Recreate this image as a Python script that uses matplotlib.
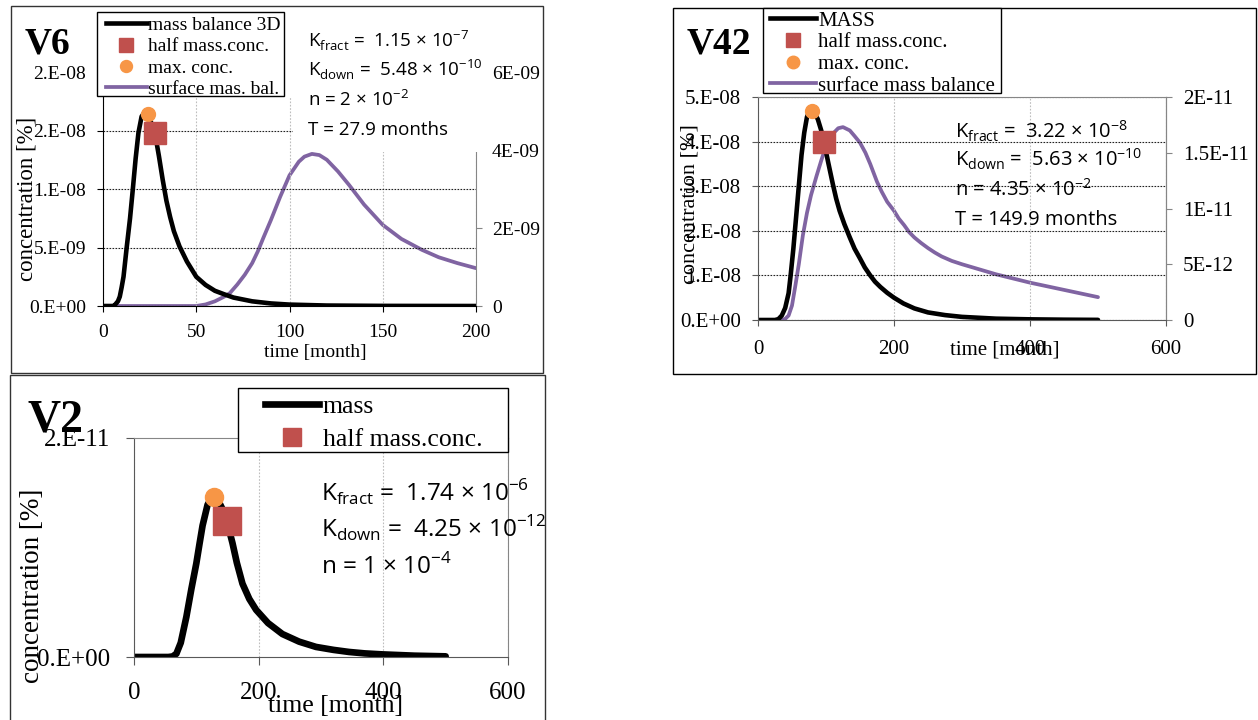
import matplotlib.pyplot as plt
from matplotlib.lines import Line2D
from matplotlib.patches import Rectangle
from matplotlib.transforms import Bbox, TransformedBbox

# Datos (tiempo en meses, concentración en %)

# Panel V6
v6_t_mass = [0, 5, 6, 8, 9, 10, 11, 12.7, 14.5, 16, 17.5, 19, 20.7, 22.5, 24, 26, 28.8, 30, 32,
             34, 36, 38, 41, 45, 50, 55, 60, 65, 70, 80, 90, 100, 120, 150, 200]
v6_mass = [0, 0, 0.02e-9, 0.4e-9, 0.8e-9, 1.6e-9, 2.5e-9, 5.0e-9, 7.5e-9, 10.0e-9, 12.6e-9,
           14.8e-9, 16.2e-9, 16.6e-9, 16.4e-9, 15.6e-9, 13.9e-9, 12.8e-9, 10.8e-9, 9.0e-9,
           7.6e-9, 6.4e-9, 5.1e-9, 3.8e-9, 2.5e-9, 1.8e-9, 1.3e-9, 1.0e-9, 0.72e-9, 0.4e-9,
           0.22e-9, 0.12e-9, 0.04e-9, 0.01e-9, 0]
v6_t_surf = [0, 50, 55, 60, 65, 68, 72, 76, 80, 83, 86, 90, 95, 100, 105, 108, 112, 116, 120,
             126, 132, 140, 150, 160, 171, 180, 190, 200]
v6_surf = [0, 0, 0.04e-9, 0.12e-9, 0.24e-9, 0.33e-9, 0.55e-9, 0.8e-9, 1.1e-9, 1.4e-9, 1.75e-9,
           2.2e-9, 2.8e-9, 3.35e-9, 3.7e-9, 3.83e-9, 3.9e-9, 3.87e-9, 3.75e-9, 3.45e-9,
           3.1e-9, 2.6e-9, 2.08e-9, 1.72e-9, 1.44e-9, 1.25e-9, 1.1e-9, 0.97e-9]
v6_max = ([24.0], [1.64e-8])
v6_half = ([27.9], [1.48e-8])
v6_labels = ["mass balance 3D", "half mass.conc.", "max. conc.", "surface mas. bal."]
v6_yticks = [0, 5e-9, 1e-8, 1.5e-8, 2e-8]
v6_ylabels = ["0.E+00", "5.E-09", "1.E-08", "2.E-08", "2.E-08"]
v6_rticks = [0, 2e-9, 4e-9, 6e-9]
v6_rlabels = ["0", "2E-09", "4E-09", "6E-09"]
v6_xticks = [0, 50, 100, 150, 200]
v6_text = [r"K$_{\mathregular{fract}}$ =  1.15 × 10$^{\mathregular{-7}}$",
           r"K$_{\mathregular{down}}$ =  5.48 × 10$^{\mathregular{-10}}$",
           r"n = 2 × 10$^{\mathregular{-2}}$",
           "T = 27.9 months"]

# Panel V42
v42_t_mass = [0, 25, 30, 35, 40, 45, 48, 52, 56, 60, 64, 68, 72, 76, 79, 83, 88, 93, 97, 103,
              110, 115, 120, 127, 135, 142, 150, 157, 165, 172, 180, 190, 200, 214, 230, 250,
              275, 300, 350, 400, 450, 500]
v42_mass = [0, 0, 0.02e-8, 0.1e-8, 0.27e-8, 0.6e-8, 1.0e-8, 1.6e-8, 2.3e-8, 3.0e-8, 3.7e-8,
            4.2e-8, 4.55e-8, 4.7e-8, 4.72e-8, 4.65e-8, 4.5e-8, 4.25e-8, 4.0e-8, 3.55e-8,
            3.05e-8, 2.72e-8, 2.45e-8, 2.15e-8, 1.85e-8, 1.6e-8, 1.38e-8, 1.18e-8, 1.0e-8,
            0.86e-8, 0.74e-8, 0.61e-8, 0.5e-8, 0.37e-8, 0.26e-8, 0.17e-8, 0.11e-8, 0.07e-8,
            0.03e-8, 0.015e-8, 0.007e-8, 0.003e-8]
v42_t_surf = [0, 35, 40, 45, 50, 55, 60, 66, 72, 78, 86, 93, 101, 110, 118, 125, 135, 142, 150,
              158, 165, 170, 175, 182, 190, 200, 207, 215, 222, 230, 240, 250, 260, 270, 285,
              300, 350, 400, 450, 500]
v42_surf = [0, 0, 0.1e-12, 0.4e-12, 1.3e-12, 3.1e-12, 5.0e-12, 7.6e-12, 9.6e-12, 11.2e-12,
            12.9e-12, 14.3e-12, 15.8e-12, 16.7e-12, 17.2e-12, 17.3e-12, 17.0e-12, 16.5e-12,
            15.9e-12, 15.0e-12, 14.0e-12, 13.2e-12, 12.4e-12, 11.5e-12, 10.6e-12, 9.8e-12,
            9.1e-12, 8.5e-12, 7.9e-12, 7.4e-12, 6.9e-12, 6.45e-12, 6.05e-12, 5.7e-12, 5.3e-12,
            5.0e-12, 4.1e-12, 3.35e-12, 2.7e-12, 2.05e-12]
v42_max = ([79.0], [4.69e-8])
v42_half = ([97.0], [4.0e-8])
v42_labels = ["MASS", "half mass.conc.", "max. conc.", "surface mass balance"]
v42_yticks = [0, 1e-8, 2e-8, 3e-8, 4e-8, 5e-8]
v42_ylabels = ["0.E+00", "1.E-08", "2.E-08", "3.E-08", "4.E-08", "5.E-08"]
v42_rticks = [0, 5e-12, 1e-11, 1.5e-11, 2e-11]
v42_rlabels = ["0", "5E-12", "1E-11", "1.5E-11", "2E-11"]
v42_xticks = [0, 200, 400, 600]
v42_text = [r"K$_{\mathregular{fract}}$ =  3.22 × 10$^{\mathregular{-8}}$",
            r"K$_{\mathregular{down}}$ =  5.63 × 10$^{\mathregular{-10}}$",
            r"n = 4.35 × 10$^{\mathregular{-2}}$",
            "T = 149.9 months"]

# Panel V2
v2_t_mass = [0, 55, 62, 68, 75, 84, 92, 100, 105, 110, 118, 124, 129, 135, 142, 149, 158, 165,
             174, 185, 196, 215, 238, 265, 292, 320, 345, 370, 398, 450, 500]
v2_mass = [0, 0, 0.05e-12, 0.3e-12, 1.3e-12, 3.66e-12, 6.2e-12, 8.55e-12, 10.3e-12, 12.0e-12,
           13.9e-12, 14.5e-12, 14.6e-12, 14.3e-12, 13.5e-12, 12.4e-12, 10.4e-12, 8.6e-12,
           6.7e-12, 5.3e-12, 4.3e-12, 3.1e-12, 2.1e-12, 1.4e-12, 0.92e-12, 0.65e-12,
           0.46e-12, 0.33e-12, 0.24e-12, 0.12e-12, 0.06e-12]
v2_max = ([129.0], [14.6e-12])
v2_half = ([149.0], [12.4e-12])
v2_labels = ["mass", "half mass.conc."]
v2_yticks = [0, 2e-11]
v2_ylabels = ["0.E+00", "2.E-11"]
v2_xticks = [0, 200, 400, 600]
v2_text = [r"K$_{\mathregular{fract}}$ =  1.74 × 10$^{\mathregular{-6}}$",
           r"K$_{\mathregular{down}}$ =  4.25 × 10$^{\mathregular{-12}}$",
           r"n = 1 × 10$^{\mathregular{-4}}$"]

# Colores (paleta de Excel)
RED = '#C0504D'
ORANGE = '#F79646'
PURPLE = '#8064A2'
GREY = '#868686'
DARK = '#595959'

plt.rcParams['font.family'] = 'Liberation Serif'
plt.rcParams['mathtext.fontset'] = 'custom'
plt.rcParams['mathtext.rm'] = 'Open Sans'

W, H = 1258, 720
fig = plt.figure(figsize=(W / 100, H / 100), dpi=100)


# Conversión de píxeles (origen arriba a la izquierda) a coordenadas de figura
def fx(x):
    return x / W


def fy(y):
    return 1 - y / H


def box(l, t, r, b):
    return [fx(l), fy(b), (r - l) / W, (b - t) / H]


def rect(l, t, r, b, **kw):
    fig.add_artist(Rectangle((fx(l), fy(b)), (r - l) / W, (b - t) / H,
                             transform=fig.transFigure, **kw))


def grids(ax, horizontal=True):
    ax.set_axisbelow(True)
    if horizontal:
        ax.grid(axis='y', color='#222222', linestyle=(0, (1.5, 1.2)), lw=0.8)
    ax.grid(axis='x', color='#bdbdbd', linestyle=(0, (1.5, 1.5)), lw=0.8)


def legend(handles, labels, x, y, size, spacing, hlen, pad):
    fig.legend(handles, labels, loc='upper left', bbox_to_anchor=(fx(x), fy(y)),
               frameon=False, fontsize=size, handlelength=hlen, handletextpad=pad,
               labelspacing=spacing, borderpad=0, borderaxespad=0)


LINE = dict(solid_capstyle='round', solid_joinstyle='round')

# ---------------- V6 ----------------
ax6 = fig.add_axes(box(103, 72, 476, 306))
ax6r = ax6.twinx()
ax6.set_zorder(1)
ax6.patch.set_visible(False)

ax6r.plot(v6_t_surf, v6_surf, color=PURPLE, lw=2.7, **LINE)
ax6.plot(v6_t_mass, v6_mass, color='black', lw=3.3, **LINE)
ax6.plot(*v6_max, 'o', color=ORANGE, ms=10)
ax6.plot(*v6_half, 's', color=RED, ms=16)

ax6.set_xlim(0, 200)
ax6.set_ylim(0, 2e-8)
ax6r.set_ylim(0, 6e-9)
ax6.set_xticks(v6_xticks)
ax6.set_yticks(v6_yticks, v6_ylabels)
ax6r.set_yticks(v6_rticks, v6_rlabels)
grids(ax6)
ax6.spines[['top', 'right']].set_visible(False)
ax6r.spines[['top', 'left', 'bottom']].set_visible(False)
ax6r.spines['right'].set_color(GREY)
ax6.tick_params(axis='y', direction='out', length=4.3, pad=7.9, labelsize=14)
ax6.tick_params(axis='x', direction='out', length=4, pad=9, labelsize=14)
ax6r.tick_params(axis='y', direction='out', length=4.3, pad=7.2, labelsize=14, color=GREY)

# zonas tapadas por el cuadro de texto en el original
rect(96, 55, 293, 96.5, facecolor='white', edgecolor='none', zorder=1.5)
rect(293, 55, 488, 151.5, facecolor='white', edgecolor='none', zorder=1.5)

fig.text(fx(25), fy(53), 'V6', fontsize=27, fontweight='bold')
fig.text(fx(27), fy(199), 'concentration [%]', fontsize=16.5, rotation=90,
         ha='center', va='center')
fig.text(fx(315), fy(352), 'time [month]', fontsize=14, ha='center', va='center')
for i, line in enumerate(v6_text):
    fig.text(fx(308), fy(48 + 29 * i), line, family='Open Sans', fontsize=13.5)

rect(97, 12, 284, 96, facecolor='white', edgecolor='black', lw=1, zorder=4)
h6 = [Line2D([], [], color='black', lw=3.3),
      Line2D([], [], marker='s', ls='none', color=RED, ms=9.4),
      Line2D([], [], marker='o', ls='none', color=ORANGE, ms=8.6),
      Line2D([], [], color=PURPLE, lw=2.7)]
legend(h6, v6_labels, 106, 16.5, 14, 0.19, 2.1, 0.05)

# ---------------- V42 ----------------
ax42 = fig.add_axes(box(758, 97, 1166, 320))
ax42r = ax42.twinx()
ax42.set_zorder(1)
ax42.patch.set_visible(False)

ax42r.plot(v42_t_surf, v42_surf, color=PURPLE, lw=2.7, **LINE)
ax42.plot(v42_t_mass, v42_mass, color='black', lw=3.3, **LINE)
ax42.plot(*v42_max, 'o', color=ORANGE, ms=10)
ax42.plot(*v42_half, 's', color=RED, ms=16)

ax42.set_xlim(0, 600)
ax42.set_ylim(0, 5e-8)
ax42r.set_ylim(0, 2e-11)
ax42.set_xticks(v42_xticks)
ax42.set_yticks(v42_yticks, v42_ylabels)
ax42r.set_yticks(v42_rticks, v42_rlabels)
grids(ax42)
ax42.spines[['left', 'bottom']].set_color(DARK)
ax42.spines[['top', 'right']].set_color(GREY)
ax42r.spines[['top', 'left', 'bottom']].set_visible(False)
ax42r.spines['right'].set_color(GREY)
ax42.tick_params(axis='y', direction='out', length=4.3, pad=7.9, labelsize=15, color=DARK)
ax42.tick_params(axis='x', direction='out', length=4.3, pad=10, labelsize=15, color=DARK)
ax42r.tick_params(axis='y', direction='out', length=4.3, pad=8, labelsize=15, color=GREY)

fig.text(fx(687), fy(53), 'V42', fontsize=27, fontweight='bold')
fig.text(fx(690), fy(204), 'concentration [%]', fontsize=16, rotation=90,
         ha='center', va='center')
fig.text(fx(1005), fy(350), 'time [month]', fontsize=15, ha='center', va='center')
for i, line in enumerate(v42_text):
    fig.text(fx(955), fy(138 + 29 * i), line, family='Open Sans', fontsize=14.5)

rect(763, 8, 1001, 93, facecolor='white', edgecolor='black', lw=1, zorder=4)
h42 = [Line2D([], [], color='black', lw=3.3),
       Line2D([], [], marker='s', ls='none', color=RED, ms=10),
       Line2D([], [], marker='o', ls='none', color=ORANGE, ms=9),
       Line2D([], [], color=PURPLE, lw=2.7)]
legend(h42, v42_labels, 770, 11, 15, 0.1, 2.2, 0.1)

# ---------------- V2 ----------------
ax2 = fig.add_axes(box(134, 438, 508, 657))
ax2.plot(v2_t_mass, v2_mass, color='black', lw=4.8, **LINE)
ax2.plot(*v2_max, 'o', color=ORANGE, ms=13)
ax2.plot(*v2_half, 's', color=RED, ms=20)

ax2.set_xlim(0, 600)
ax2.set_ylim(0, 2e-11)
ax2.set_xticks(v2_xticks)
ax2.set_yticks(v2_yticks, v2_ylabels)
grids(ax2, horizontal=False)
ax2.spines[['left', 'bottom']].set_color(DARK)
ax2.spines[['top', 'right']].set_color(GREY)
ax2.tick_params(direction='out', length=5.5, labelsize=18, color=DARK)
ax2.tick_params(axis='y', pad=11.8)
ax2.tick_params(axis='x', pad=12.5)

fig.text(fx(28), fy(432), 'V2', fontsize=33, fontweight='bold')
fig.text(fx(33), fy(586), 'concentration [%]', fontsize=19.5, rotation=90,
         ha='center', va='center')
fig.text(fx(335), fy(706), 'time [month]', fontsize=18.5, ha='center', va='center')
clip2 = TransformedBbox(Bbox.from_extents(fx(10), fy(722), fx(545), fy(375)), fig.transFigure)
for i, line in enumerate(v2_text):
    t = fig.text(fx(321), fy(502 + 36 * i), line, family='Open Sans', fontsize=17.5)
    t.set_clip_box(clip2)
    t.set_clip_on(True)

rect(238, 388, 508, 452, facecolor='white', edgecolor='black', lw=1, zorder=4)
h2 = [Line2D([], [], color='black', lw=4.8),
      Line2D([], [], marker='s', ls='none', color=RED, ms=13)]
legend(h2, v2_labels, 265, 395, 18.5, 0.38, 2.1, 0.15)

# Marcos de cada panel
rect(10.5, 6, 543, 373, facecolor='none', edgecolor='#333333', lw=1, zorder=1.6)
rect(673, 8, 1256, 374, facecolor='none', edgecolor='black', lw=1, zorder=1.6)
rect(10, 375, 545, 725, facecolor='none', edgecolor='#333333', lw=1, zorder=1.6)

fig.savefig('out.png', dpi=100, facecolor='white')
